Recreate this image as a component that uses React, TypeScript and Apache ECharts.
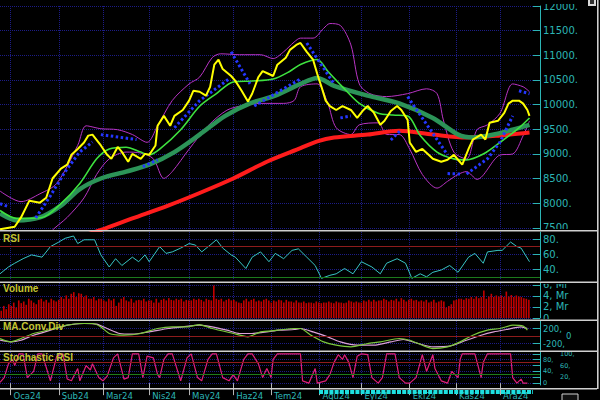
import React, { useEffect, useRef } from "react";
import * as echarts from "echarts";

// ---------- tick labels ----------
const monthLabels = ["Oca24", "Şub24", "Mar24", "Nis24", "May24", "Haz24", "Tem24", "Ağu24", "Eyl24", "Eki24", "Kas24", "Ara24"];
const monthStartDays = [5, 28, 49, 71, 90, 111, 129, 152, 172, 195, 217, 238];
const X_MAX = 257;

// ---------- main panel (trading day index, value) ----------
const price: [number, number][] = [
  [0, 7470], [7, 7520], [10, 7710], [14, 8050], [19, 8010], [22, 8110], [25, 8500], [29, 8700], [32, 8780], [34, 8980],
  [37, 9100], [40, 9230], [42, 9370], [44, 9390], [48, 9170], [51, 8980], [53, 8900], [56, 9140], [58, 9040], [61, 8840],
  [63, 9000], [67, 8900], [69, 9000], [71, 8980], [74, 9170], [75, 9570], [78, 9770], [81, 9570], [83, 9770], [87, 9890],
  [90, 10080], [92, 10280], [95, 10260], [98, 10180], [100, 10360], [102, 10810], [104, 10910], [106, 10720], [110, 10580],
  [112, 10480], [115, 10280], [118, 10060], [120, 10220], [123, 10560], [125, 10680], [128, 10620], [130, 10580],
  [132, 10810], [136, 10950], [138, 11110], [141, 11210], [143, 11250], [146, 11070], [149, 10910], [151, 10620],
  [153, 10360], [155, 10080], [157, 9970], [160, 9890], [163, 9970], [167, 9890], [170, 9730], [173, 9890], [175, 9970],
  [178, 9830], [181, 9590], [183, 9670], [186, 9870], [189, 9970], [191, 9890], [194, 9690], [195, 9230], [198, 9040],
  [201, 9100], [204, 8980], [206, 8900], [210, 8840], [213, 8880], [216, 8980], [218, 8880], [220, 8780], [223, 9100],
  [225, 9290], [229, 9390], [231, 9290], [233, 9630], [237, 9670], [240, 9830], [242, 10020], [244, 10080], [247, 10080],
  [249, 10020], [251, 9890], [252, 9770],
];

const maFast: [number, number][] = [
  [0, 7850], [8, 7690], [20, 7710], [29, 7990], [38, 8400], [46, 8900], [52, 9100], [60, 9135], [67, 9036], [71, 8980],
  [76, 9095], [86, 9490], [95, 9965], [103, 10222], [111, 10459], [120, 10478], [130, 10518], [138, 10676], [143, 10814],
  [151, 10913], [156, 10676], [163, 10360], [171, 10024], [180, 9826], [187, 9787], [194, 9767], [200, 9372], [208, 9036],
  [216, 8898], [222, 8878], [230, 8997], [238, 9234], [246, 9490], [252, 9728],
];

const maMid: [number, number][] = [
  [0, 7790], [8, 7650], [19, 7710], [29, 7950], [38, 8285], [48, 8500], [60, 8640], [71, 8780], [83, 9036], [95, 9390],
  [107, 9767], [119, 10024], [131, 10182], [143, 10419], [151, 10540], [159, 10380], [175, 10182], [190, 10024],
  [206, 9728], [218, 9392], [225, 9332], [235, 9392], [244, 9490], [252, 9589],
];

const maSlow: [number, number][] = [
  [38, 7320], [48, 7455], [63, 7690], [80, 7950], [95, 8206], [111, 8500], [127, 8840], [143, 9115], [151, 9253],
  [159, 9332], [175, 9392], [190, 9470], [206, 9392], [222, 9332], [238, 9372], [252, 9431],
];

const bandUpper: [number, number][] = [
  [0, 8246], [10, 8030], [19, 8190], [27, 8400], [37, 9174], [41, 9569], [48, 9510], [56, 9490], [63, 9392], [70, 9234],
  [75, 9569], [82, 10083], [90, 10419], [95, 10557], [101, 10953], [105, 11030], [114, 11012], [124, 11012], [130, 10933],
  [135, 11071], [140, 11269], [143, 11348], [149, 11348], [154, 11545], [157, 11644], [162, 11605], [167, 11210],
  [171, 10419], [176, 10222], [184, 10162], [194, 10222], [203, 10320], [208, 10222], [211, 9688], [216, 9036],
  [222, 8898], [227, 9490], [232, 9589], [238, 9826], [244, 10419], [249, 10360], [252, 10261],
];

const bandLower: [number, number][] = [
  [21, 7260], [25, 7455], [32, 7712], [40, 8107], [46, 8582], [52, 8898], [60, 9036], [67, 9016], [73, 8898], [78, 8502],
  [82, 8641], [90, 9095], [99, 9569], [108, 9886], [116, 9984], [124, 10024], [135, 10024], [140, 10083], [143, 10360],
  [151, 10419], [156, 10024], [160, 9530], [167, 9392], [171, 9589], [180, 9629], [184, 9392], [190, 9392], [195, 9095],
  [201, 8582], [208, 8305], [213, 8443], [218, 8582], [222, 8641], [227, 8483], [238, 8977], [244, 8997], [249, 9372],
  [252, 9668],
];

const sarSegments: [number, number][][] = [
  [[0, 7990], [4, 7930]],
  [[17, 7700], [24, 8150], [31, 8640], [38, 9040], [44, 9240]],
  [[48, 9390], [65, 9290]],
  [[68, 8740], [75, 8880]],
  [[83, 9530], [95, 10080], [109, 10520]],
  [[110, 11070], [119, 10420]],
  [[121, 9970], [143, 10520]],
  [[146, 11250], [159, 10420]],
  [[162, 9730], [167, 9770]],
  [[186, 9280], [191, 9490]],
  [[194, 10160], [213, 8980]],
  [[213, 8600], [219, 8590]],
  [[222, 8590], [232, 8900], [238, 9240], [244, 9770]],
  [[247, 10280], [252, 10220]],
];

// ---------- RSI ----------
const rsi: [number, number][] = [
  [0, 34], [4, 43], [7, 48], [11, 54], [15, 59], [20, 56], [24, 70], [28, 76], [31, 81], [35, 84], [37, 74], [40, 79],
  [45, 79], [48, 59], [52, 43], [55, 54], [58, 45], [63, 56], [66, 50], [69, 59], [71, 50], [76, 70], [79, 61], [82, 63],
  [86, 68], [90, 74], [93, 72], [96, 63], [100, 72], [103, 79], [106, 68], [110, 59], [112, 56], [117, 41], [120, 56],
  [124, 63], [128, 50], [131, 61], [135, 54], [139, 65], [142, 67], [146, 56], [150, 45], [153, 28], [157, 32], [160, 34],
  [164, 41], [168, 34], [172, 50], [177, 43], [181, 34], [184, 48], [189, 54], [193, 48], [196, 28], [200, 34], [203, 30],
  [206, 36], [210, 39], [214, 45], [218, 36], [223, 56], [226, 61], [230, 48], [232, 63], [237, 65], [239, 65], [243, 76],
  [246, 70], [248, 68], [252, 50],
];

// ---------- Volume (Mr), one bar every 1.19 trading days ----------
const volumeMr = [
  1.3, 2.2, 1.6, 2.5, 2.2, 2.8, 1.9, 3.2, 2.7, 3.0, 2.4, 3.5, 3.2, 2.8, 2.5, 3.3, 3.5, 3.0, 3.3, 2.8,
  3.5, 3.2, 3.0, 3.3, 3.8, 3.5, 4.1, 3.5, 4.4, 4.7, 3.8, 4.5, 4.4, 3.8, 4.1, 3.5, 3.5, 3.8, 3.2, 3.5,
  3.5, 3.2, 3.0, 3.5, 3.2, 3.5, 2.2, 2.8, 3.5, 3.8, 3.2, 3.0, 3.5, 2.8, 3.2, 3.3, 3.2, 3.5, 3.0, 3.2,
  3.2, 2.8, 3.5, 2.8, 3.3, 3.5, 3.2, 3.6, 3.3, 3.2, 3.5, 3.3, 3.5, 3.0, 3.3, 3.2, 3.2, 3.5, 3.3, 3.5,
  3.3, 3.0, 3.5, 3.3, 3.2, 5.9, 3.5, 3.3, 3.5, 3.0, 3.3, 3.5, 3.2, 3.3, 3.0, 2.8, 2.7, 3.2, 3.5, 3.0,
  3.3, 3.5, 3.0, 3.2, 3.0, 3.3, 3.5, 3.2, 2.8, 3.2, 3.0, 3.3, 3.2, 2.8, 3.3, 3.0, 3.0, 2.8, 3.2, 2.8,
  2.8, 3.0, 2.7, 2.8, 2.8, 2.7, 3.0, 2.8, 2.7, 2.8, 2.8, 3.0, 2.8, 2.7, 3.0, 2.8, 2.8, 2.7, 2.8, 3.2,
  3.0, 2.8, 3.0, 2.8, 2.8, 3.2, 3.0, 3.3, 3.0, 3.3, 3.0, 3.2, 3.2, 3.5, 3.3, 3.0, 3.3, 3.2, 3.5, 3.0,
  3.6, 3.3, 3.0, 3.3, 3.5, 3.2, 3.3, 3.0, 3.2, 3.0, 3.3, 2.8, 3.0, 3.3, 2.8, 3.0, 3.2, 3.0, 1.9, 2.2,
  2.5, 3.2, 3.3, 3.5, 3.5, 3.3, 3.6, 3.5, 3.8, 3.5, 3.9, 3.6, 3.8, 5.0, 3.5, 3.9, 4.4, 3.8, 4.1, 3.9,
  4.1, 3.8, 4.8, 3.9, 4.2, 3.8, 4.1, 3.9, 3.8, 3.6, 3.5, 3.3,
];
const VOLUME_DAY_STEP = 1.19;

// ---------- MACD ----------
const macdLine: [number, number][] = [
  [0, -67], [5, -157], [10, -67], [16, 67], [24, 173], [32, 288], [38, 333], [44, 333], [48, 243], [52, 67], [59, 21],
  [67, 67], [75, 200], [82, 243], [89, 243], [95, 306], [101, 200], [111, 67], [118, -24], [124, 109], [132, 155],
  [140, 200], [143, 200], [148, 21], [154, -157], [160, -245], [167, -290], [175, -200], [181, -157], [190, -67],
  [195, -112], [201, -245], [206, -335], [213, -290], [219, -157], [225, 21], [232, 155], [238, 200], [244, 288],
  [249, 262], [251, 155],
];
const macdSignal: [number, number][] = [
  [0, -112], [5, -157], [10, -112], [16, 21], [24, 155], [32, 288], [40, 333], [46, 315], [51, 200], [57, 67], [63, 48],
  [71, 109], [80, 200], [87, 243], [95, 288], [101, 243], [108, 155], [114, 67], [120, 67], [127, 109], [133, 155],
  [140, 173], [143, 200], [149, 109], [156, -24], [162, -157], [170, -245], [178, -245], [186, -157], [192, -93],
  [199, -200], [206, -290], [214, -272], [222, -112], [229, 21], [235, 109], [241, 173], [248, 243], [251, 200],
];

// ---------- Stochastic RSI ----------
const stochRsi: [number, number][] = [
  [0, 3], [2, 19], [4, 66], [6, 81], [7, 60], [9, 100], [11, 100], [13, 19], [16, 40], [18, 100], [20, 100], [24, 8],
  [27, 92], [30, 100], [32, 14], [34, 8], [37, 50], [38, 8], [41, 60], [43, 45], [44, 66], [47, 19], [49, 8], [51, 24],
  [54, 86], [56, 100], [59, 14], [61, 19], [63, 100], [66, 100], [68, 19], [70, 92], [73, 86], [75, 29], [76, 19],
  [78, 81], [80, 100], [82, 100], [86, 8], [89, 86], [91, 100], [94, 19], [96, 8], [99, 81], [101, 100], [103, 100],
  [106, 19], [109, 8], [111, 29], [113, 8], [116, 81], [118, 100], [120, 100], [123, 66], [125, 19], [127, 50],
  [129, 19], [130, 81], [132, 100], [143, 100], [144, 8], [147, 0], [150, 50], [151, 0], [155, 8], [157, 29], [159, 71],
  [161, 97], [163, 81], [164, 97], [166, 71], [168, 19], [170, 92], [172, 100], [175, 97], [177, 19], [180, 0], [182, 19],
  [184, 100], [188, 100], [190, 19], [193, 0], [195, 0], [198, 19], [200, 71], [201, 97], [203, 40], [206, 97], [207, 50],
  [210, 8], [213, 0], [215, 40], [218, 19], [219, 81], [220, 100], [226, 100], [229, 19], [230, 71], [232, 100],
  [235, 100], [243, 100], [244, 19], [246, 0], [248, 14], [249, 0], [251, 0],
];

// ---------- styles ----------
const TEAL = "#2cb5b5";
const GRIDC = "#1c1c86";
const TITLE = "#c4c432";
const SEP = "#cfcfcf";

function range(a: number, b: number, step: number, skip: number[] = []) {
  const out: number[] = [];
  for (let v = a; v <= b + 1e-9; v += step) if (!skip.includes(v)) out.push(v);
  return out;
}

// Two axes per panel: the first carries long ticks and half the labels, the second short ticks
// and the other half, so that ECharts never hides a tightly packed label.
function yAxes(
  grid: number, min: number, max: number,
  majors: number[], minors: number[], labelsA: number[], labelsB: number[],
  fmt: (v: number) => string, fontSize = 10, lineHeight = 12, marginB = 3,
) {
  const base = { gridIndex: grid, type: "value", min, max, position: "right" };
  const label = (vals: number[], margin: number) => ({
    show: vals.length > 0, customValues: vals, formatter: fmt, color: TEAL, fontSize, lineHeight,
    fontFamily: "DejaVu Sans", margin, showMinLabel: true, showMaxLabel: true, hideOverlap: false,
  });
  return [
    {
      ...base,
      axisLine: { show: true, onZero: false, lineStyle: { color: TEAL, width: 1 } },
      axisTick: { show: true, inside: true, length: 7, customValues: majors, lineStyle: { color: TEAL } },
      axisLabel: label(labelsA, 3),
      splitLine: { show: true, lineStyle: { color: GRIDC, type: "dotted", width: 1 } },
    },
    {
      ...base,
      axisLine: { show: false },
      axisTick: { show: true, inside: true, length: 4, customValues: minors, lineStyle: { color: TEAL } },
      axisLabel: label(labelsB, marginB),
      splitLine: { show: false },
    },
  ];
}

function buildOption() {
  const grids = [
    { left: 0, width: 540, top: 0, height: 230 },
    { left: 0, width: 540, top: 232, height: 48 },
    { left: 0, width: 540, top: 283, height: 35 },
    { left: 0, width: 540, top: 321, height: 29 },
    { left: 0, width: 540, top: 352, height: 36 },
  ];

  const xAxis = grids.map((_, i) => ({
    gridIndex: i,
    type: "value",
    min: 0,
    max: X_MAX,
    axisLine: { show: false },
    axisTick: { show: i === 4, customValues: monthStartDays, length: 12, lineStyle: { color: "#b4b4b4" } },
    axisLabel: {
      show: i === 4,
      customValues: monthStartDays,
      formatter: (v: number) => {
        const k = monthStartDays.findIndex((d) => Math.abs(d - v) < 0.01);
        return k >= 0 ? monthLabels[k] : "";
      },
      color: TEAL,
      fontSize: 8.5,
      fontFamily: "DejaVu Sans",
      align: "left",
      padding: [0, 0, 0, 3],
      margin: 6,
      showMinLabel: true,
      showMaxLabel: true,
    },
    splitLine: { show: true, lineStyle: { color: GRIDC, type: "dotted", width: 1 } },
  }));

  const mainMajors = range(7500, 12000, 500);
  const yAxis = [
    ...yAxes(0, 7455, 12000, mainMajors, range(7500, 12000, 100, mainMajors), mainMajors, [], (v) => `${v}.`),
    ...yAxes(1, 25.8, 89.3, [40, 60, 80], [30, 50, 70], [40, 60, 80], [], (v) => `${v}.`),
    ...yAxes(2, 0, 6.36, [0, 2, 4, 6], [1, 3, 5], [0, 4], [2, 6], (v) => (v === 0 ? "0" : `${v}, Mr`), 10, 11),
    ...yAxes(3, -373, 400, [-200, 0, 200], [-300, -100, 100, 300], [-200, 200], [0], (v) => (v === 0 ? "0" : `${v},`), 8.5, 7.5, 26),
    ...yAxes(4, -6.25, 106.25, [0, 20, 40, 60, 80, 100], [10, 30, 50, 70, 90], [0, 40, 80], [20, 60, 100],
      (v) => (v === 0 ? "0" : `${v},`), 6.5, 6.4, 20),
  ];

  const line = (data: any, color: string, width: number, grid: number, extra: any = {}) => ({
    type: "line",
    xAxisIndex: grid,
    yAxisIndex: grid * 2,
    data,
    symbol: "none",
    lineStyle: { color, width },
    ...extra,
  });

  const refLines = (vals: [number, string][]) => ({
    silent: true,
    symbol: "none",
    label: { show: false },
    data: vals.map(([v, c]) => ({ yAxis: v, lineStyle: { color: c, type: "solid", width: 1 } })),
  });

  const series: any[] = [
    line(bandUpper, "#b834c4", 1, 0, { smooth: 0.3 }),
    line(bandLower, "#b834c4", 1, 0, { smooth: 0.3 }),
    line(maSlow, "#ff1c1c", 4, 0, { smooth: 0.3 }),
    line(maMid, "#2c9458", 4.5, 0, { smooth: 0.3 }),
    line(maFast, "#3ee23e", 1.6, 0, { smooth: 0.3 }),
    ...sarSegments.map((seg) => line(seg, "#2436ff", 3, 0, { lineStyle: { color: "#2436ff", width: 3, type: [2.5, 2.5] } })),
    line(price, "#ffff00", 2, 0),
    line(rsi, "#38c4c4", 1, 1, { markLine: refLines([[70, "#8e1c1c"], [30, "#1c7a1c"]]) }),
    {
      type: "bar",
      xAxisIndex: 2,
      yAxisIndex: 4,
      data: volumeMr.map((v, i) => [i * VOLUME_DAY_STEP + 0.6, v]),
      barWidth: 1.6,
      itemStyle: { color: "#c20000" },
    },
    line(macdSignal, "#dca0d8", 1.2, 3, { smooth: 0.2, markLine: refLines([[0, "#8e1c1c"]]) }),
    line(macdLine, "#7cc83c", 1.2, 3, { smooth: 0.2 }),
    line(stochRsi, "#e0207a", 1.2, 4, { markLine: refLines([[70, "#8e1c1c"], [30, "#1c7a1c"]]) }),
  ];

  const sep = (y: number) => ({ type: "rect", z: 100, shape: { x: 0, y, width: 597, height: 1.6 }, style: { fill: SEP } });
  const cover = (y: number, h: number) => ({ type: "rect", z: 99, shape: { x: 541, y, width: 56, height: h }, style: { fill: "#000" } });
  const title = (text: string, y: number) => ({
    type: "text",
    z: 100,
    x: 3,
    y,
    style: { text, fill: TITLE, font: 'bold 10px "Liberation Sans"', verticalAlign: "middle" },
  });

  const graphic = [
    cover(0, 4),
    cover(229, 4),
    cover(280, 4),
    cover(319, 4),
    cover(348, 4),
    sep(230),
    sep(281.5),
    sep(319.5),
    sep(350.5),
    sep(388),
    { type: "rect", z: 100, shape: { x: 597, y: 0, width: 1.6, height: 389 }, style: { fill: SEP } },
    { type: "rect", z: 100, shape: { x: 588, y: 0, width: 8, height: 6 }, style: { fill: "#d8d8d8" } },
    { type: "rect", z: 101, shape: { x: 590, y: 0, width: 4, height: 4 }, style: { fill: "#303030" } },
    title("RSI", 238),
    title("Volume", 288),
    title("MA.Conv.Div", 326.5),
    title("Stochastic RSI", 357),
    {
      type: "line",
      z: 100,
      shape: { x1: 319, y1: 392, x2: 533, y2: 392 },
      style: { stroke: "#1ee0e0", lineWidth: 4, lineDash: [4, 1.2] },
    },
    { type: "rect", z: 100, shape: { x: 562, y: 394, width: 16, height: 8 }, style: { fill: "#101010", stroke: "#d0d0d0", lineWidth: 1 } },
  ];

  return {
    animation: false,
    backgroundColor: "#000000",
    textStyle: { fontFamily: "DejaVu Sans" },
    grid: grids,
    xAxis,
    yAxis,
    series,
    graphic,
  };
}

export default function App() {
  const ref = useRef<HTMLDivElement>(null);
  useEffect(() => {
    const chart = echarts.init(ref.current!, null, { renderer: "svg" });
    chart.setOption(buildOption() as any);
    return () => chart.dispose();
  }, []);
  return <div ref={ref} style={{ position: "fixed", left: 0, top: 0, width: 600, height: 400 }} />;
}
